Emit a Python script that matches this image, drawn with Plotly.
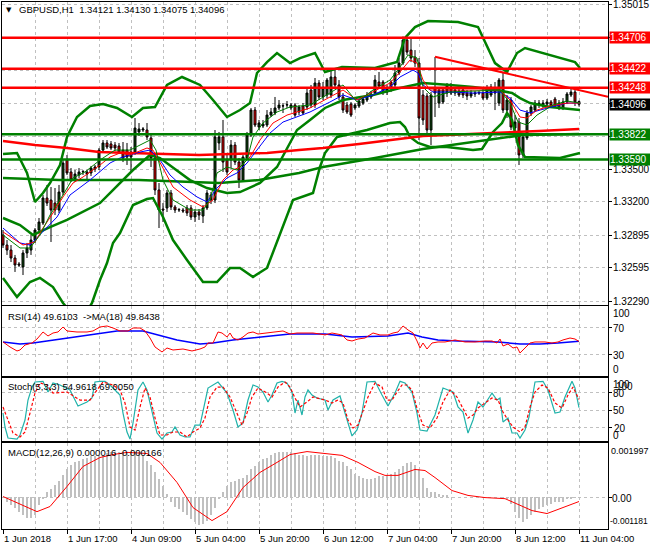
import plotly.graph_objects as go
from plotly.subplots import make_subplots

# ---------------- data ----------------
label_bars = [0, 16, 32, 48, 64, 80, 96, 112, 128, 144]
x_labels = ["1 Jun 2018", "1 Jun 17:00", "4 Jun 09:00", "5 Jun 04:00", "5 Jun 20:00",
            "6 Jun 12:00", "7 Jun 04:00", "7 Jun 20:00", "8 Jun 12:00", "11 Jun 04:00"]

open_ = [
1.32897, 1.32805, 1.32759, 1.32686, 1.32631, 1.32604, 1.32732, 1.32759, 1.32851, 1.32943,
1.33007, 1.33236, 1.33218, 1.33190, 1.33126, 1.33291, 1.33585, 1.33475, 1.33401, 1.33447,
1.33475, 1.33475, 1.33466, 1.33502, 1.33521, 1.33676, 1.33741, 1.33732, 1.33722, 1.33713,
1.33676, 1.33676, 1.33612, 1.33658, 1.33842, 1.33860, 1.33860, 1.33787, 1.33603, 1.33310,
1.33135, 1.33145, 1.33282, 1.33154, 1.33126, 1.33126, 1.33145, 1.33145, 1.33062, 1.33108,
1.33071, 1.33145, 1.33264, 1.33218, 1.33741, 1.33796, 1.33585, 1.33585, 1.33722, 1.33566,
1.33401, 1.33603, 1.33814, 1.34043, 1.33887, 1.33897, 1.33906, 1.33997, 1.34016, 1.34062,
1.34080, 1.34089, 1.34062, 1.34089, 1.34025, 1.34080, 1.34071, 1.34227, 1.34089, 1.34291,
1.34163, 1.34181, 1.34181, 1.34346, 1.34273, 1.34163, 1.34089, 1.34098, 1.34062, 1.34080,
1.34107, 1.34135, 1.34163, 1.34199, 1.34300, 1.34300, 1.34208, 1.34300, 1.34273, 1.34383,
1.34474, 1.34685, 1.34593, 1.34529, 1.34474, 1.34181, 1.34172, 1.33860, 1.34245, 1.34107,
1.34117, 1.34199, 1.34254, 1.34199, 1.34218, 1.34227, 1.34199, 1.34172, 1.34190, 1.34199,
1.34199, 1.34153, 1.34181, 1.34245, 1.34107, 1.34318, 1.34043, 1.34135, 1.33878, 1.33933,
1.33631, 1.33787, 1.34016, 1.34043, 1.34089, 1.34080, 1.34098, 1.34117, 1.34144, 1.34107,
1.34062, 1.34117, 1.34181, 1.34208, 1.34121]

high = [
1.32943, 1.32851, 1.32805, 1.32714, 1.32649, 1.32759, 1.32824, 1.32897, 1.32961, 1.33053,
1.33264, 1.33356, 1.33337, 1.33328, 1.33356, 1.33585, 1.33631, 1.33511, 1.33493, 1.33511,
1.33493, 1.33493, 1.33530, 1.33539, 1.33695, 1.33768, 1.33768, 1.33759, 1.33750, 1.33741,
1.33750, 1.33741, 1.33704, 1.33970, 1.33924, 1.33887, 1.33924, 1.33814, 1.33631, 1.33374,
1.33190, 1.33310, 1.33310, 1.33172, 1.33145, 1.33145, 1.33172, 1.33172, 1.33135, 1.33135,
1.33172, 1.33310, 1.33291, 1.33860, 1.33842, 1.33952, 1.33631, 1.33768, 1.33750, 1.33603,
1.33631, 1.33842, 1.34062, 1.34071, 1.33952, 1.33952, 1.34043, 1.34062, 1.34163, 1.34135,
1.34107, 1.34126, 1.34107, 1.34107, 1.34089, 1.34107, 1.34254, 1.34273, 1.34337, 1.34318,
1.34300, 1.34337, 1.34428, 1.34410, 1.34318, 1.34199, 1.34117, 1.34117, 1.34107, 1.34144,
1.34163, 1.34208, 1.34218, 1.34364, 1.34392, 1.34318, 1.34273, 1.34318, 1.34456, 1.34520,
1.34718, 1.34710, 1.34704, 1.34593, 1.34520, 1.34227, 1.34199, 1.34208, 1.34529, 1.34245,
1.34254, 1.34291, 1.34291, 1.34254, 1.34245, 1.34245, 1.34227, 1.34227, 1.34218, 1.34218,
1.34245, 1.34273, 1.34282, 1.34300, 1.34337, 1.34392, 1.34181, 1.34163, 1.33997, 1.33970,
1.33832, 1.34043, 1.34089, 1.34135, 1.34135, 1.34135, 1.34144, 1.34135, 1.34163, 1.34135,
1.34153, 1.34208, 1.34245, 1.34227, 1.34130]

low = [
1.32778, 1.32714, 1.32649, 1.32558, 1.32604, 1.32530, 1.32686, 1.32714, 1.32824, 1.32925,
1.32989, 1.33163, 1.32833, 1.33080, 1.33099, 1.33264, 1.33447, 1.33383, 1.33383, 1.33420,
1.33447, 1.33401, 1.33438, 1.33475, 1.33493, 1.33658, 1.33686, 1.33676, 1.33667, 1.33640,
1.33566, 1.33539, 1.33466, 1.33631, 1.33805, 1.33842, 1.33768, 1.33521, 1.33264, 1.32961,
1.33016, 1.33108, 1.33126, 1.33099, 1.33108, 1.33099, 1.33071, 1.33035, 1.33016, 1.33035,
1.33007, 1.33126, 1.33181, 1.33190, 1.33676, 1.33475, 1.33447, 1.33511, 1.33539, 1.33328,
1.33383, 1.33585, 1.33796, 1.33887, 1.33860, 1.33878, 1.33887, 1.33979, 1.33997, 1.34043,
1.34016, 1.34062, 1.34043, 1.33979, 1.33997, 1.33997, 1.34043, 1.34062, 1.34062, 1.34135,
1.34135, 1.34153, 1.34153, 1.34245, 1.34135, 1.34016, 1.34007, 1.33979, 1.34043, 1.34062,
1.34089, 1.34117, 1.34144, 1.34181, 1.34245, 1.34181, 1.34181, 1.34208, 1.34245, 1.34364,
1.34456, 1.34548, 1.34483, 1.34438, 1.33768, 1.33906, 1.33832, 1.33722, 1.33979, 1.34062,
1.34098, 1.34163, 1.34181, 1.34172, 1.34163, 1.34153, 1.34135, 1.34153, 1.34163, 1.34181,
1.34135, 1.34135, 1.34163, 1.34043, 1.34080, 1.34016, 1.33970, 1.33860, 1.33842, 1.33539,
1.33603, 1.33768, 1.33988, 1.34025, 1.34062, 1.34062, 1.34080, 1.34062, 1.34062, 1.34043,
1.34043, 1.34098, 1.34163, 1.34080, 1.34075]

close = [
1.32805, 1.32759, 1.32686, 1.32622, 1.32622, 1.32732, 1.32778, 1.32851, 1.32943, 1.33016,
1.33236, 1.33190, 1.33126, 1.33126, 1.33291, 1.33557, 1.33466, 1.33401, 1.33456, 1.33475,
1.33478, 1.33456, 1.33511, 1.33521, 1.33676, 1.33741, 1.33704, 1.33695, 1.33695, 1.33658,
1.33603, 1.33612, 1.33658, 1.33878, 1.33869, 1.33869, 1.33796, 1.33603, 1.33310, 1.33126,
1.33126, 1.33282, 1.33154, 1.33126, 1.33130, 1.33117, 1.33099, 1.33062, 1.33108, 1.33080,
1.33145, 1.33282, 1.33218, 1.33796, 1.33796, 1.33566, 1.33475, 1.33722, 1.33566, 1.33401,
1.33612, 1.33814, 1.34043, 1.33906, 1.33924, 1.33915, 1.33997, 1.34025, 1.34062, 1.34089,
1.34082, 1.34092, 1.34089, 1.33997, 1.34071, 1.34016, 1.34199, 1.34089, 1.34291, 1.34163,
1.34245, 1.34318, 1.34346, 1.34273, 1.34163, 1.34043, 1.34025, 1.33997, 1.34089, 1.34126,
1.34144, 1.34181, 1.34190, 1.34318, 1.34263, 1.34208, 1.34245, 1.34245, 1.34383, 1.34474,
1.34685, 1.34575, 1.34520, 1.34474, 1.33970, 1.33952, 1.33860, 1.34181, 1.34199, 1.34227,
1.34227, 1.34263, 1.34199, 1.34227, 1.34181, 1.34181, 1.34172, 1.34199, 1.34199, 1.34202,
1.34153, 1.34245, 1.34254, 1.34199, 1.34318, 1.34043, 1.34135, 1.33887, 1.33933, 1.33631,
1.33796, 1.34016, 1.34071, 1.34107, 1.34107, 1.34107, 1.34117, 1.34080, 1.34080, 1.34062,
1.34117, 1.34190, 1.34208, 1.34117, 1.34096]

# support / resistance levels
red_levels = [1.34706, 1.34422, 1.34248]
green_levels = [1.33822, 1.33590]
last_price = 1.34096
trend_line = [(108, 1.34532), (151.25, 1.34164)]

# price-axis grid values and labels
price_grid = [1.32290, 1.32595, 1.32895, 1.33200, 1.33500, 1.33805, 1.34105, 1.34410, 1.34710, 1.35015]
price_labels = ["1.32290", "1.32595", "1.32895", "1.33200", "1.33500", "", "", "", "", "1.35015"]

# indicator readings (bar, value)
ma_long_red = [(0,1.33759),(8,1.33722),(16,1.33695),(24,1.33658),(32,1.33649),(41,1.33640),(49,1.33631),
               (57,1.33640),(66,1.33649),(74,1.33676),(80,1.33695),(89,1.33732),(97,1.33768),(105,1.33805),
               (114,1.33819),(124,1.33832),(134,1.33851),(144,1.33869)]
ma_long_green = [(0,1.33420),(14,1.33401),(34,1.33401),(54,1.33374),(64,1.33401),(74,1.33466),(80,1.33521),
                 (93,1.33603),(105,1.33686),(114,1.33732),(125,1.33787),(130,1.33814),(144,1.33823)]
bb_upper = [(0,1.33640),(3.5,1.33649),(6,1.33466),(8,1.33200),(10,1.33282),(11.75,1.33374),(14.25,1.33539),
            (16,1.33796),(18.5,1.33979),(21.75,1.34080),(25,1.34098),(28.5,1.34062),(32.25,1.33979),(35,1.34062),
            (38,1.34071),(41,1.34273),(44.75,1.34346),(49.25,1.34273),(52.5,1.34135),(56,1.33979),(59.25,1.34043),
            (61.75,1.34107),(63.5,1.34383),(66,1.34483),(68.5,1.34566),(71.75,1.34474),(74.25,1.34520),(78,1.34566),
            (80.5,1.34392),(84.75,1.34438),(93,1.34428),(98.5,1.34483),(100.5,1.34704),(103,1.34804),(106.25,1.34859),
            (113.75,1.34850),(118.75,1.34804),(123,1.34474),(126,1.34392),(128.5,1.34566),(130.5,1.34612),
            (138.75,1.34529),(143,1.34483),(144.25,1.34428)]
bb_mid = [(0,1.33053),(4.25,1.32989),(7.5,1.32897),(11.75,1.32970),(16,1.33035),(24.25,1.33190),(32.5,1.33493),
          (36.75,1.33631),(39.25,1.33603),(43.5,1.33493),(46.75,1.33401),(51,1.33328),(56,1.33282),(59.25,1.33291),
          (64.25,1.33374),(68.5,1.33521),(73.5,1.33860),(76.75,1.33952),(80.5,1.34062),(85,1.34135),(92.5,1.34181),
          (99.25,1.34245),(105,1.34291),(111.75,1.34273),(117.5,1.34254),(123.5,1.34227),(127.25,1.34199),
          (129.25,1.34153),(131.75,1.34107),(136.75,1.34071),(142.5,1.34052),(144.25,1.34043)]
bb_lower = [(0,1.32503),(3.5,1.32329),(6.75,1.32466),(9.25,1.32503),(12.5,1.32420),(15,1.32274),(18,1.32136),
            (20.5,1.32164),(22.25,1.32274),(24.25,1.32484),(26,1.32640),(27.5,1.32824),(29.25,1.32915),(31,1.33062),
            (32.5,1.33172),(36,1.33227),(37.5,1.33236),(40,1.33062),(42.5,1.32851),(46,1.32668),(50,1.32466),
            (53.5,1.32466),(56.75,1.32594),(59.25,1.32594),(62.5,1.32512),(66,1.32594),(69.25,1.32915),(72.5,1.33218),
            (77.5,1.33282),(79.25,1.33521),(80.5,1.33649),(83.5,1.33796),(91,1.33860),(96.75,1.33924),(99.25,1.33933),
            (100.5,1.33887),(101.75,1.33796),(103.75,1.33741),(106.75,1.33704),(111,1.33704),(117.5,1.33676),
            (119.75,1.33686),(122.5,1.33842),(124.75,1.33924),(126,1.34016),(127.25,1.33952),(128.75,1.33722),
            (130.5,1.33612),(139.25,1.33603),(144.25,1.33649)]
ma_blue = [(0,1.32961),(4.25,1.32824),(6.75,1.32805),(10,1.32925),(13.5,1.33062),(16.75,1.33264),(21.75,1.33401),
           (26.75,1.33557),(29.25,1.33603),(34.25,1.33658),(36.75,1.33676),(39.25,1.33585),(41.75,1.33447),(45,1.33337),
           (48.5,1.33246),(51,1.33200),(53.5,1.33328),(56,1.33420),(58.5,1.33466),(61,1.33557),(63.5,1.33676),
           (66.75,1.33832),(70,1.33933),(73.5,1.33979),(76.75,1.34025),(81.75,1.34117),(85,1.34181),(88.5,1.34135),
           (92.5,1.34181),(96.75,1.34254),(99.25,1.34346),(102.5,1.34410),(103.75,1.34383),(105,1.34273),
           (107.5,1.34208),(111.75,1.34208),(117.5,1.34199),(124.25,1.34208),(126.75,1.34153),(129.25,1.34043),
           (131.75,1.34016),(134.25,1.34043),(137.5,1.34071),(141,1.34107),(144.25,1.34107)]
ma_red = [(0,1.32925),(5,1.32805),(8,1.32833),(10,1.32961),(12.5,1.33099),(15,1.33246),(17.5,1.33374),(20,1.33429),
          (24.25,1.33539),(26.75,1.33612),(29.25,1.33649),(31.75,1.33631),(36,1.33695),(37.5,1.33676),(40,1.33511),
          (42.5,1.33337),(46.75,1.33218),(50,1.33154),(52.5,1.33218),(55,1.33401),(57.5,1.33493),(59.25,1.33521),
          (61.75,1.33612),(64.25,1.33768),(67.5,1.33924),(71,1.33997),(73.5,1.34025),(76.75,1.34062),(81.75,1.34163),
          (85,1.34227),(88.5,1.34135),(92.5,1.34208),(96.75,1.34291),(99.25,1.34392),(101.75,1.34502),(103.5,1.34474),
          (105,1.34318),(106.75,1.34227),(111.75,1.34227),(124.25,1.34227),(126.75,1.34135),(129.25,1.33979),
          (131,1.33970),(133.5,1.34043),(136.75,1.34080),(141,1.34107),(144.25,1.34107)]
ma_green = [(0,1.32897),(4.25,1.32778),(6.75,1.32778),(9.25,1.32897),(11.75,1.33080),(15,1.33264),(17.5,1.33420),
            (20.5,1.33475),(24.25,1.33585),(28,1.33676),(31.75,1.33676),(34.25,1.33722),(36.75,1.33768),(38.25,1.33676),
            (40,1.33401),(42.5,1.33218),(46.75,1.33126),(50,1.33126),(51.75,1.33218),(53.5,1.33466),(56,1.33521),
            (58.5,1.33493),(61,1.33585),(62.5,1.33796),(65,1.33924),(68.5,1.34025),(71.75,1.34071),(76.75,1.34089),
            (81.75,1.34199),(85,1.34273),(88.5,1.34117),(92.5,1.34227),(96.75,1.34318),(99.25,1.34438),(101.25,1.34548),
            (103.5,1.34520),(105,1.34254),(107.5,1.34163),(111.75,1.34208),(124.25,1.34227),(126.75,1.34107),
            (128.75,1.33933),(131,1.33906),(133.5,1.33997),(137.5,1.34089),(141,1.34126),(144.25,1.34107)]

rsi = [(0,48.9),(1.75,41.5),(3.5,35.6),(4.25,37.0),(5.5,44.4),(7.25,47.4),(8.5,53.3),(10,63.7),(11.25,57.8),
       (12.5,62.2),(13.75,63.7),(15,71.1),(16,65.2),(18.5,63.7),(21,63.7),(22.5,65.2),(24.25,71.1),(26,72.6),
       (27.5,69.6),(29.25,65.2),(31.25,65.2),(32.5,69.6),(34.25,69.6),(35.5,65.2),(36.75,54.8),(38,41.5),(39.75,34.1),
       (41,40.0),(42.5,37.0),(45,38.5),(47.25,35.6),(49.25,38.5),(50.5,41.5),(51.25,47.4),(52.5,47.4),(53.75,63.7),
       (54.75,62.2),(56,56.3),(56.75,62.2),(57.5,54.8),(58.75,51.9),(60,56.3),(61.25,62.2),(62.5,63.7),(63.75,60.7),
       (66,62.2),(68.5,63.7),(70,65.2),(71.75,60.7),(73.5,62.2),(76,62.2),(77.5,62.2),(79.25,60.7),(80.5,59.3),
       (82.25,62.2),(84.75,59.3),(86,51.9),(87.25,50.4),(88.75,53.3),(90.5,54.8),(92.5,62.2),(94.25,59.3),
       (96.25,59.3),(97.5,62.2),(98.75,63.7),(100,72.6),(101.25,66.7),(102.5,62.2),(103.5,50.4),(104.25,40.0),
       (105,47.4),(106,38.5),(107.25,47.4),(108.75,48.9),(110.5,48.9),(113,51.9),(115.5,48.9),(118,48.9),
       (120.5,50.4),(122.25,50.4),(123.5,47.4),(124.25,53.3),(125,43.0),(126.25,45.9),(127.5,40.0),(128.5,41.5),
       (129.25,32.6),(130.5,40.0),(131.75,47.4),(133,48.9),(135.5,48.9),(137.25,47.4),(138.75,48.9),(140,51.9),
       (141.75,54.8),(143,53.3),(144,49.61)]
rsi_ma = [(0,48.9),(4.25,45.9),(7.5,47.4),(16,54.8),(24.25,62.2),(28.5,65.2),(35,65.2),(38.5,59.3),(43.5,51.9),
          (49.25,45.9),(52.5,47.4),(57.5,51.9),(62.5,54.8),(66,56.3),(71.75,60.7),(80.5,60.7),(87.25,56.3),
          (96.25,57.8),(101.25,62.2),(104.75,56.3),(108.75,51.9),(113.75,50.4),(123.75,48.9),(129.25,45.9),
          (134.25,45.9),(138.75,47.4),(144,49.84)]

stoch_main = [(0,45.6),(0.5,21.6),(1.25,2.7),(3.5,1.0),(4.25,7.9),(5.5,33.6),(6.25,67.9),(7.25,90.2),(8,98.8),
              (10,100),(11.25,81.6),(12.5,97.1),(14.25,93.7),(16.75,85.1),(18.75,57.6),(21,64.5),(22.25,71.4),
              (23,98.8),(24.25,100),(25.5,100),(26.75,93.7),(28,85.1),(29.25,76.5),(30,45.6),(31,13.0),(31.75,1.0),
              (32.5,28.5),(33.75,85.1),(35,98.8),(36,85.1),(37.25,45.6),(38.5,11.3),(39.75,1.0),(41,11.3),(42.25,13.0),
              (43,21.6),(44.25,7.9),(45.5,4.5),(46.75,4.5),(48,25.0),(49.25,25.0),(50.5,62.8),(51.25,88.5),(53.75,98.8),
              (56,79.9),(57.5,50.8),(58.75,21.6),(60,28.5),(61.25,67.9),(62.5,93.7),(63.75,90.2),(65,81.6),(66.25,64.5),
              (67.25,76.5),(68.5,97.1),(69.75,100),(71,97.1),(72.25,81.6),(73,45.6),(73.75,67.9),(74.75,42.2),
              (75.5,73.1),(76.25,85.1),(77.25,76.5),(78.5,71.4),(80.5,67.9),(81.25,50.8),(82.5,67.9),(84.25,74.8),
              (85.5,45.6),(87.25,6.2),(88.5,16.5),(89.75,45.6),(91,98.8),(93,100),(94.75,76.5),(96.25,57.6),(98,79.9),
              (99.25,100),(100.5,97.1),(102.25,81.6),(103.5,45.6),(104.25,16.5),(106,14.7),(108,42.2),(110,88.5),
              (111.25,85.1),(112.5,81.6),(113.75,55.9),(115,47.3),(116.25,11.3),(117.5,33.6),(118.75,64.5),(120,55.9),
              (122.25,79.9),(123.5,67.9),(124.25,71.4),(125,30.2),(126.25,37.0),(127.25,11.3),(128.5,11.3),(129.25,2.7),
              (130.5,16.5),(131.5,38.8),(133,98.8),(135,100),(136.25,85.1),(138,45.6),(139.25,47.3),(140.5,73.1),
              (142.25,100),(143,88.5),(144,54.96)]
stoch_signal = [(0,55.9),(1.25,33.6),(2.5,11.3),(4.25,4.5),(5.5,13.0),(6.75,45.6),(8,79.9),(9.25,97.1),(11,93.7),
                (12.5,79.9),(16,81.6),(19.25,67.9),(21.75,67.9),(23.5,85.1),(25,98.8),(27.5,93.7),(29.25,85.1),
                (30.5,62.8),(31.75,21.6),(33,16.5),(34.25,55.9),(35.5,88.5),(36.75,73.1),(38,37.0),(39.25,7.9),
                (41,7.9),(42.5,13.0),(44.25,13.0),(46,4.5),(47.5,13.0),(49.25,19.9),(50.5,37.0),(51.75,73.1),
                (53.5,90.2),(55,90.2),(56.75,73.1),(58.5,45.6),(59.75,25.0),(61,45.6),(62.25,73.1),(63.75,88.5),
                (66,79.9),(67.25,73.1),(68.75,90.2),(70.5,98.8),(71.75,90.2),(73,71.4),(74.25,55.9),(76,64.5),
                (77.5,73.1),(80.5,67.9),(82.25,62.8),(83.75,67.9),(85,62.8),(86.25,33.6),(87.5,19.9),(88.75,25.0),
                (90,50.8),(91.25,73.1),(93,97.1),(94.75,90.2),(96,67.9),(97.25,67.9),(98.5,81.6),(99.75,93.7),
                (101,93.7),(102.25,85.1),(103.75,47.3),(105,25.0),(106.75,19.9),(108.5,37.0),(110,64.5),(111.75,85.1),
                (113.5,73.1),(115,54.2),(116.25,37.0),(117.5,42.2),(118.75,54.2),(120.5,62.8),(122.25,71.4),
                (123.75,67.9),(125,47.3),(126.25,33.6),(127.5,21.6),(129.25,13.0),(130.5,21.6),(131.75,55.9),
                (133,81.6),(134.75,93.7),(136.25,88.5),(138,62.8),(139.75,54.2),(141.25,76.5),(142.5,90.2),(144,69.0)]

macd_hist = [
0.00002, -0.00020, -0.00028, -0.00039, -0.00054, -0.00068, -0.00076, -0.00076, -0.00065, -0.00028,
-0.00009, 0.00017, 0.00028, 0.00043, 0.00061, 0.00083, 0.00102, 0.00117, 0.00128, 0.00135,
0.00142, 0.00146, 0.00150, 0.00150, 0.00157, 0.00157, 0.00161, 0.00165, 0.00165, 0.00168,
0.00168, 0.00168, 0.00168, 0.00168, 0.00165, 0.00154, 0.00135, 0.00117, 0.00094, 0.00065,
0.00039, 0.00013, -0.00020, -0.00035, -0.00043, -0.00054, -0.00065, -0.00080, -0.00091, -0.00102,
-0.00098, -0.00087, -0.00065, -0.00039, -0.00009, 0.00020, 0.00039, 0.00054, 0.00061, 0.00065,
0.00072, 0.00083, 0.00102, 0.00113, 0.00128, 0.00139, 0.00146, 0.00154, 0.00161, 0.00168,
0.00168, 0.00168, 0.00165, 0.00161, 0.00157, 0.00154, 0.00150, 0.00157, 0.00157, 0.00154,
0.00150, 0.00150, 0.00150, 0.00146, 0.00135, 0.00128, 0.00113, 0.00102, 0.00087, 0.00076,
0.00072, 0.00068, 0.00068, 0.00072, 0.00076, 0.00076, 0.00083, 0.00087, 0.00091, 0.00102,
0.00113, 0.00124, 0.00128, 0.00120, 0.00105, 0.00072, 0.00035, 0.00020, 0.00017, 0.00013,
0.00009, 0.00006, 0.00002, 0.00001, 0.00001, -0.00001, 0.00001, 0.00001, 0.00001, 0.00002,
0.00001, 0.00001, 0.00002, 0.00001, 0.00001, -0.00002, -0.00009, -0.00024, -0.00054, -0.00076,
-0.00091, -0.00080, -0.00068, -0.00057, -0.00046, -0.00035, -0.00028, -0.00024, -0.00020, -0.00017,
-0.00017, -0.00009, -0.00006, -0.00002, 0.000016]
macd_signal = [(0,0.00002),(3.5,-0.00020),(8.5,-0.00054),(11.75,-0.00035),(16,0.00039),(20,0.00113),(24.25,0.00146),
               (27.5,0.00157),(31,0.00165),(36,0.00161),(39.25,0.00128),(43.5,0.00054),(47.5,-0.00039),(52.25,-0.00087),
               (56,-0.00054),(60,0.00035),(64.25,0.00091),(68.5,0.00128),(71.75,0.00157),(76,0.00168),(80.5,0.00161),
               (84.75,0.00154),(88.75,0.00128),(93,0.00094),(95.5,0.00080),(98.75,0.00080),(103,0.00102),(105.5,0.00098),
               (108,0.00072),(112.25,0.00024),(116.25,0.00006),(120.5,-0.00002),(125.5,-0.00006),(128.75,-0.00028),
               (132.25,-0.00050),(136,-0.00061),(138.75,-0.00046),(142.25,-0.00028),(144,-0.000166)]

# ---------------- figure ----------------
W, H = 650, 550
ML, MR, MT, MB = 2, 42, 2, 21
PW, PH = W - ML - MR, H - MT - MB


def py(p):
    return (H - MB - p) / PH


def unz(pairs):
    return [a for a, b in pairs], [b for a, b in pairs]


bars = list(range(len(close)))
fig = make_subplots(rows=4, cols=1, shared_xaxes=True, vertical_spacing=0.004)

fig.add_trace(go.Candlestick(
    x=bars, open=open_, high=high, low=low, close=close,
    increasing=dict(line=dict(color="black", width=1), fillcolor="#0B4A0B"),
    decreasing=dict(line=dict(color="black", width=1), fillcolor="#FF0000"),
    whiskerwidth=0, hoverinfo="skip", showlegend=False), row=1, col=1)

GREEN = "#008000"
for series, col, w in [(bb_upper, GREEN, 2.5), (bb_mid, GREEN, 2.5), (bb_lower, GREEN, 2.5),
                       (ma_long_green, GREEN, 2.5), (ma_long_red, "#FF0000", 2.5),
                       (ma_blue, "#0000FF", 1), (ma_red, "#FF0000", 1), (ma_green, GREEN, 1)]:
    xs, ys = unz(series)
    fig.add_trace(go.Scatter(x=xs, y=ys, mode="lines", line=dict(color=col, width=w),
                             hoverinfo="skip", showlegend=False), row=1, col=1)

xs, ys = unz(rsi_ma)
fig.add_trace(go.Scatter(x=xs, y=ys, mode="lines", line=dict(color="#0000FF", width=1.5),
                         hoverinfo="skip", showlegend=False), row=2, col=1)
xs, ys = unz(rsi)
fig.add_trace(go.Scatter(x=xs, y=ys, mode="lines", line=dict(color="#FF0000", width=1),
                         hoverinfo="skip", showlegend=False), row=2, col=1)

xs, ys = unz(stoch_main)
fig.add_trace(go.Scatter(x=xs, y=ys, mode="lines", line=dict(color="#20B2AA", width=1.2),
                         hoverinfo="skip", showlegend=False), row=3, col=1)
xs, ys = unz(stoch_signal)
fig.add_trace(go.Scatter(x=xs, y=ys, mode="lines", line=dict(color="#FF0000", width=1.2, dash="3px,2px"),
                         hoverinfo="skip", showlegend=False), row=3, col=1)

fig.add_trace(go.Bar(x=bars, y=macd_hist, width=0.3, marker=dict(color="#C0C0C0", line=dict(width=0)),
                     hoverinfo="skip", showlegend=False), row=4, col=1)
xs, ys = unz(macd_signal)
fig.add_trace(go.Scatter(x=xs, y=ys, mode="lines", line=dict(color="#FF0000", width=1),
                         hoverinfo="skip", showlegend=False), row=4, col=1)

# ---- shapes: levels and trend line ----
shapes = []
for lv in red_levels:
    shapes.append(dict(type="line", xref="paper", yref="y", x0=0, x1=1, y0=lv, y1=lv,
                       line=dict(color="#FF0000", width=2.5), layer="above"))
for lv in green_levels:
    shapes.append(dict(type="line", xref="paper", yref="y", x0=0, x1=1, y0=lv, y1=lv,
                       line=dict(color=GREEN, width=2.5), layer="above"))
(tx0, ty0), (tx1, ty1) = trend_line
shapes.append(dict(type="line", xref="x", yref="y", x0=tx0, x1=tx1, y0=ty0, y1=ty1,
                   line=dict(color="#FF0000", width=2), layer="above"))

# ---- axes ----
GRID = "#C0C0C0"
FONT = "Liberation Sans"
xr = [-0.25, 151.25]
for i in range(1, 5):
    fig.update_xaxes(range=xr, tick0=0, dtick=16, showgrid=True, gridcolor=GRID, griddash="3px,3px",
                     gridwidth=1, minor=dict(tick0=0, dtick=8, showgrid=True, gridcolor=GRID, griddash="3px,3px"),
                     showline=True, mirror=True, linecolor="black", linewidth=1, zeroline=False,
                     showticklabels=False, ticks="", rangeslider=dict(visible=False), fixedrange=True,
                     row=i, col=1)
fig.update_xaxes(ticks="outside", ticklen=4, tickcolor="black", row=4, col=1)

yaxis_common = dict(side="right", showline=True, mirror=True, linecolor="black", linewidth=1,
                    zeroline=False, showgrid=True, gridcolor=GRID, griddash="3px,3px",
                    showticklabels=False, ticks="outside", ticklen=3, tickcolor="black", fixedrange=True)
fig.update_yaxes(range=[1.32255, 1.35034], tickvals=price_grid, **yaxis_common, row=1, col=1)
fig.update_yaxes(range=[-1.5, 102.2], tickvals=[30, 70], **yaxis_common, row=2, col=1)
fig.update_yaxes(range=[-2.4, 105.7], tickvals=[20, 50, 80], **yaxis_common, row=3, col=1)
fig.update_yaxes(range=[-0.001181, 0.001997], tickvals=[0], **yaxis_common, row=4, col=1)

fig.update_layout(
    yaxis=dict(domain=[py(305), py(2)]),
    yaxis2=dict(domain=[py(376), py(306)]),
    yaxis3=dict(domain=[py(441), py(378)]),
    yaxis4=dict(domain=[py(529), py(443)]),
)

# ---- annotations ----
ann = []
TXT = dict(family=FONT, size=10, color="black")
for v, t in zip(price_grid, price_labels):
    if t:
        ann.append(dict(x=1, xref="paper", y=v, yref="y", text=t, showarrow=False, xanchor="left",
                        yanchor="middle", xshift=3, font=TXT))
for lv in red_levels:
    ann.append(dict(x=1, xref="paper", y=lv, yref="y", text=f"{lv:.5f}", showarrow=False, xanchor="left",
                    yanchor="middle", xshift=1, bgcolor="#FF0000", width=40, height=11, align="left",
                    borderpad=0, font=dict(family=FONT, size=10, color="white")))
for lv in green_levels:
    ann.append(dict(x=1, xref="paper", y=lv, yref="y", text=f"{lv:.5f}", showarrow=False, xanchor="left",
                    yanchor="middle", xshift=1, bgcolor=GREEN, width=40, height=11, align="left",
                    borderpad=0, font=dict(family=FONT, size=10, color="white")))
ann.append(dict(x=1, xref="paper", y=last_price, yref="y", text=f"{last_price:.5f}", showarrow=False,
                xanchor="left", yanchor="middle", xshift=1, bgcolor="black", width=40, height=11, align="left",
                borderpad=0, font=dict(family=FONT, size=10, color="white")))

side_labels = [("100", 313, 3, 10), ("70", 328, 3, 10), ("30", 355, 3, 10), ("0", 369, 3, 10),
               ("100", 384, 3, 10), ("100", 386, 6, 10), ("80", 393, 3, 10), ("50", 410, 3, 10),
               ("20", 428, 4, 10), ("0", 435, 3, 10),
               ("0.001997", 451, 1, 9), ("0.00", 498, 2, 10), ("-0.001181", 521, 0, 8.5)]
for t, p, xs_, fs in side_labels:
    ann.append(dict(x=1, xref="paper", y=py(p), yref="paper", text=t, showarrow=False, xanchor="left",
                    yanchor="middle", xshift=xs_, font=dict(family=FONT, size=fs, color="black")))

ann.append(dict(x=0, xref="paper", y=py(10), yref="paper", text="▼", showarrow=False, xanchor="left",
                yanchor="middle", xshift=2, font=dict(family="DejaVu Sans", size=7, color="black")))
captions = [("GBPUSD,H1  1.34121 1.34130 1.34075 1.34096", 10, 15),
            ("RSI(14) 49.6103  ->MA(18) 49.8438", 316, 4),
            ("Stoch(5,3,3) 54.9618 69.0050", 387, 4),
            ("MACD(12,26,9) 0.000016 -0.000166", 452, 4)]
for t, p, xs_ in captions:
    ann.append(dict(x=0, xref="paper", y=py(p), yref="paper", text=t, showarrow=False, xanchor="left",
                    yanchor="middle", xshift=xs_, font=dict(family=FONT, size=9.5, color="black")))

for b, t in zip(label_bars, x_labels):
    ann.append(dict(x=b, xref="x4", y=py(538), yref="paper", text=t, showarrow=False, xanchor="left",
                    yanchor="middle", xshift=-1, font=dict(family=FONT, size=9.5, color="black")))

fig.update_layout(
    width=W, height=H, margin=dict(l=ML, r=MR, t=MT, b=MB),
    paper_bgcolor="white", plot_bgcolor="white",
    shapes=shapes, annotations=ann, showlegend=False, bargap=0,
    font=dict(family=FONT, size=10, color="black"),
)

fig.write_html("out.html", config={"displayModeBar": False, "staticPlot": True})

# remove the default page margin so the 650x550 figure fills the window exactly
with open("out.html", "r", encoding="utf-8") as f:
    html = f.read()
html = html.replace("<head>", "<head><style>html,body{margin:0;padding:0;overflow:hidden;}</style>", 1)
with open("out.html", "w", encoding="utf-8") as f:
    f.write(html)
